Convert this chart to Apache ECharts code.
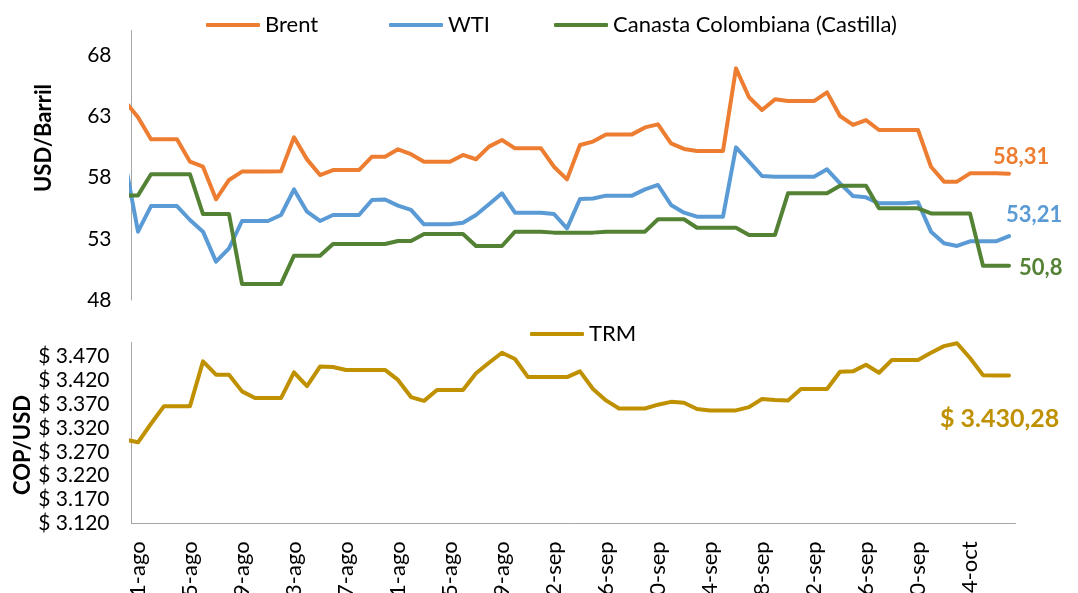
<!DOCTYPE html>
<html>
<head>
<meta charset="utf-8">
<script src="https://cdn.jsdelivr.net/npm/echarts@6/dist/echarts.min.js"></script>
<style>
html,body{margin:0;padding:0;background:#fff;}
#chart{width:1078px;height:593px;}
</style>
</head>
<body>
<div id="chart"></div>
<script>
// Dates: first entry (31-jul) lies half a slot left of the axis and is clipped
const dates = ['31-jul',
'1-ago','2-ago','3-ago','4-ago','5-ago','6-ago','7-ago','8-ago','9-ago','10-ago',
'11-ago','12-ago','13-ago','14-ago','15-ago','16-ago','17-ago','18-ago','19-ago','20-ago',
'21-ago','22-ago','23-ago','24-ago','25-ago','26-ago','27-ago','28-ago','29-ago','30-ago','31-ago',
'1-sep','2-sep','3-sep','4-sep','5-sep','6-sep','7-sep','8-sep','9-sep','10-sep',
'11-sep','12-sep','13-sep','14-sep','15-sep','16-sep','17-sep','18-sep','19-sep','20-sep',
'21-sep','22-sep','23-sep','24-sep','25-sep','26-sep','27-sep','28-sep','29-sep','30-sep',
'1-oct','2-oct','3-oct','4-oct','5-oct','6-oct','7-oct'];

const brent = [64.23,
62.91,61.12,61.12,61.12,59.29,58.88,56.22,57.80,58.48,58.48,
58.48,58.50,61.28,59.48,58.20,58.61,58.61,58.61,59.70,59.70,
60.30,59.90,59.29,59.29,59.29,59.84,59.49,60.52,61.06,60.38,60.38,
60.38,58.88,57.85,60.65,60.93,61.52,61.52,61.52,62.09,62.34,
60.79,60.33,60.16,60.16,60.16,66.91,64.55,63.51,64.38,64.24,
64.24,64.24,64.95,63.02,62.29,62.69,61.88,61.88,61.88,61.88,
58.88,57.66,57.66,58.34,58.34,58.34,58.31];

const wti = [59.28,
53.58,55.67,55.67,55.67,54.53,53.58,51.13,52.22,54.45,54.45,
54.45,54.94,57.03,55.21,54.45,54.94,54.94,54.94,56.16,56.20,
55.70,55.35,54.18,54.18,54.18,54.31,54.94,55.81,56.71,55.13,55.13,
55.13,55.02,53.85,56.24,56.29,56.52,56.52,56.52,57.03,57.39,
55.76,55.13,54.80,54.80,54.80,60.46,59.30,58.12,58.07,58.07,
58.07,58.07,58.67,57.52,56.49,56.38,55.89,55.89,55.89,55.97,
53.58,52.63,52.41,52.79,52.79,52.79,53.21];

const canasta = [56.54,
56.54,58.26,58.26,58.26,58.26,55.02,55.02,55.02,49.31,49.31,
49.31,49.31,51.62,51.62,51.62,52.57,52.57,52.57,52.57,52.57,
52.82,52.82,53.39,53.39,53.39,53.39,52.41,52.41,52.41,53.58,53.58,
53.58,53.50,53.50,53.50,53.50,53.58,53.58,53.58,53.58,54.59,
54.59,54.59,53.90,53.90,53.90,53.90,53.31,53.31,53.31,56.71,
56.71,56.71,56.71,57.33,57.33,57.33,55.48,55.48,55.48,55.48,
55.07,55.07,55.07,55.07,50.80,50.80,50.80];

const trm = [3296,
3290,3329,3366,3366,3366,3460,3432,3432,3397,3383,
3383,3383,3437,3408,3449,3448,3442,3442,3442,3442,
3421,3385,3377,3400,3400,3400,3435,3457,3478,3465,3427,
3427,3427,3427,3439,3402,3378,3361,3361,3361,3369,
3375,3373,3360,3357,3357,3357,3364,3381,3379,3378,
3402,3402,3402,3438,3439,3453,3436,3463,3463,3463,
3478,3492,3498,3467,3431,3430.28,3430.28];

const topTicks = [48,53,58,63,68];
const bottomTicks = [3120,3170,3220,3270,3320,3370,3420,3470];

const FONT = 'Lato';
const C_BRENT = '#ED7D31', C_WTI = '#5B9BD5', C_CAN = '#548235', C_TRM = '#BF9000';

function dec(v, d) {
  const s = (Math.round(v * Math.pow(10, d)) / Math.pow(10, d)).toString();
  return s.replace('.', ',');
}
function thousands(v) {
  const parts = v.toFixed(2).split('.');
  const int = parts[0].replace(/\B(?=(\d{3})+(?!\d))/g, '.');
  return int + ',' + parts[1];
}
const pairs = arr => arr.map((v, i) => [i, v]);

const chart = echarts.init(document.getElementById('chart'), null, {renderer: 'canvas'});

function lineSeries(name, arr, color, xi, yi, endLabel) {
  return {
    name: name, type: 'line', xAxisIndex: xi, yAxisIndex: yi,
    data: pairs(arr), symbol: 'none', showSymbol: false, color: color,
    lineStyle: {width: 4, color: color, cap: 'round', join: 'round'},
    endLabel: endLabel, clip: true, animation: false
  };
}

const legendBase = {
  orient: 'horizontal', padding: 0, icon: 'roundRect', itemWidth: 54, itemHeight: 4,
  selectedMode: false, textStyle: {fontSize: 22, fontFamily: FONT, color: '#000'}
};

chart.setOption({
  animation: false,
  grid: [
    {left: 131.5, width: 884, top: 30.5, height: 269.5, containLabel: false, outerBoundsMode: 'none'},
    {left: 131.5, width: 884, top: 342.3, height: 181, containLabel: false, outerBoundsMode: 'none'}
  ],
  legend: [
    Object.assign({}, legendBase, {data: ['Brent'], left: 206, top: 14}),
    Object.assign({}, legendBase, {data: ['WTI'], left: 389, top: 14}),
    Object.assign({}, legendBase, {data: ['Canasta Colombiana (Castilla)'], left: 554, top: 14}),
    Object.assign({}, legendBase, {data: ['TRM'], left: 530, top: 323})
  ],
  xAxis: [
    {type: 'value', gridIndex: 0, min: 0.5, max: dates.length - 0.5, show: false, position: 'top'},
    {type: 'value', gridIndex: 1, min: 0.5, max: dates.length - 0.5, show: false, position: 'top'},
    {type: 'category', gridIndex: 1, position: 'bottom', data: dates.slice(1), boundaryGap: true,
     axisLine: {show: true, lineStyle: {color: '#a6a6a6', width: 1}},
     axisTick: {show: false},
     axisLabel: {interval: 3, rotate: 90, fontSize: 22, fontFamily: FONT, color: '#000', margin: 18}}
  ],
  yAxis: [
    {type: 'value', gridIndex: 0, min: 48, max: 70,
     axisLine: {show: true, lineStyle: {color: '#a6a6a6', width: 1}},
     axisTick: {show: false}, splitLine: {show: false},
     axisLabel: {customValues: topTicks, fontSize: 21, fontFamily: FONT, color: '#000', margin: 20}},
    {type: 'value', gridIndex: 1, min: 3120, max: 3500,
     axisLine: {show: true, lineStyle: {color: '#a6a6a6', width: 1}},
     axisTick: {show: false}, splitLine: {show: false},
     axisLabel: {customValues: bottomTicks, fontSize: 21, fontFamily: FONT, color: '#000', margin: 22,
       formatter: v => '$ ' + String(v).replace(/\B(?=(\d{3})+(?!\d))/g, '.')}}
  ],
  graphic: [
    {type: 'text', x: 44, y: 138, rotation: Math.PI / 2,
     style: {text: 'USD/Barril', fontSize: 22, fontWeight: 'bold', fontFamily: FONT, fill: '#000',
             align: 'center', verticalAlign: 'middle', textAlign: 'center', textVerticalAlign: 'middle'}},
    {type: 'text', x: 23, y: 445, rotation: Math.PI / 2,
     style: {text: 'COP/USD', fontSize: 22, fontWeight: 'bold', fontFamily: FONT, fill: '#000',
             align: 'center', verticalAlign: 'middle', textAlign: 'center', textVerticalAlign: 'middle'}}
  ],
  series: [
    lineSeries('Brent', brent, C_BRENT, 0, 0,
      {show: true, distance: 0, offset: [-16, -17], color: C_BRENT, fontSize: 22, fontWeight: 'bold', fontFamily: FONT,
       formatter: p => dec(p.value[1], 2)}),
    lineSeries('WTI', wti, C_WTI, 0, 0,
      {show: true, distance: 0, offset: [-3, -21], color: C_WTI, fontSize: 22, fontWeight: 'bold', fontFamily: FONT,
       formatter: p => dec(p.value[1], 2)}),
    lineSeries('Canasta Colombiana (Castilla)', canasta, C_CAN, 0, 0,
      {show: true, distance: 0, offset: [10, 2], color: C_CAN, fontSize: 22, fontWeight: 'bold', fontFamily: FONT,
       formatter: p => dec(p.value[1], 1)}),
    lineSeries('TRM', trm, C_TRM, 1, 1,
      {show: true, distance: 0, offset: [-69, 43], color: C_TRM, fontSize: 25, fontWeight: 'bold', fontFamily: FONT,
       formatter: p => '$ ' + thousands(p.value[1])})
  ]
});
</script>
</body>
</html>
